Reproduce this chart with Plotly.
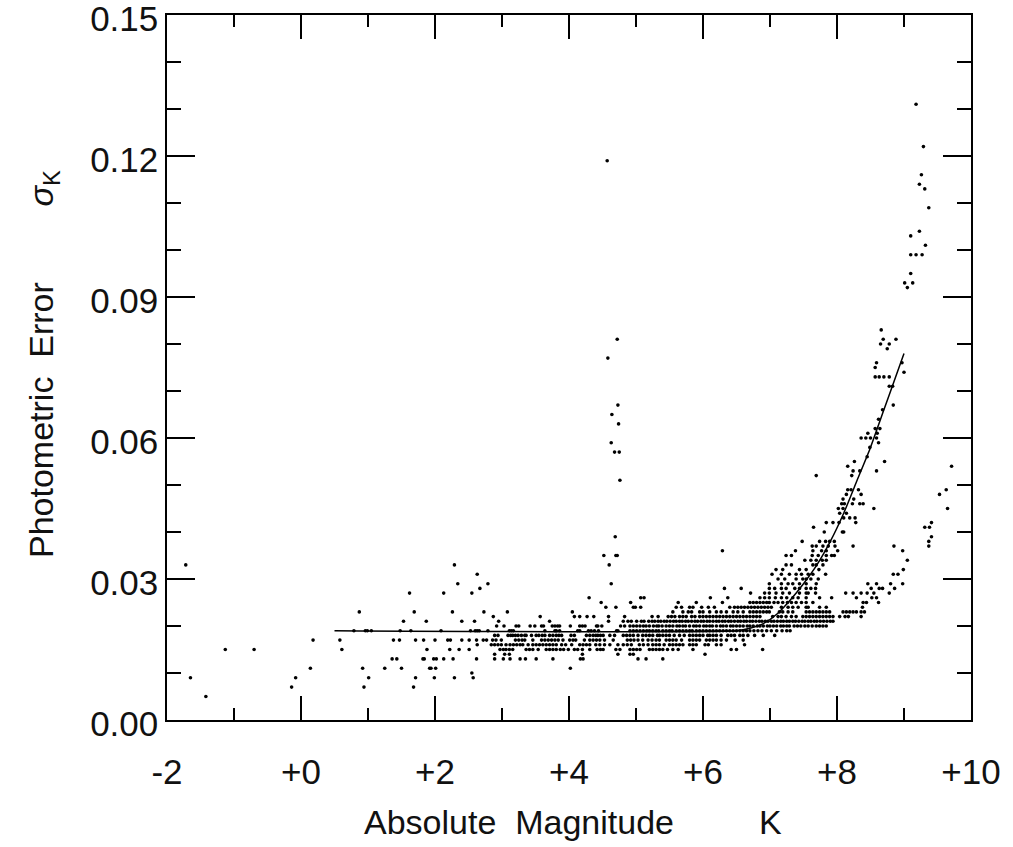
import plotly.graph_objects as go

# ---------------- data ----------------
# absolute magnitudes K of stars, grouped by their (quantised) photometric error sigma_K
sig_013 = [1.36, 1.43, 1.82, 1.84, 1.98, 2.02, 2.13, 2.27, 2.62, 2.89, 3.02, 3.12, 3.27, 3.35,
           3.51, 3.76, 4.17, 4.21, 5.03, 5.15, 5.40]
sig_014 = [2.89, 3.04, 3.11, 4.20, 4.73, 4.91, 4.96, 6.03]
sig_015 = [-1.13, -0.70, 0.61, 1.88, 2.22, 2.36, 2.51, 2.97, 3.02, 3.06, 3.11, 3.16, 3.36, 3.41,
           3.46, 3.54, 3.66, 3.71, 3.76, 3.81, 3.87, 3.92, 3.99, 4.08, 4.13, 4.20, 4.31, 4.42,
           4.47, 4.51, 4.70, 4.76, 4.91, 4.96, 5.01, 5.06, 5.20, 5.25, 5.30, 5.35, 5.40, 5.47,
           5.55, 5.63, 5.85, 6.42, 6.50, 6.89]
sig_016 = [2.63, 2.84, 2.89, 2.94, 2.99, 3.06, 3.12, 3.17, 3.22, 3.27, 3.31, 3.39, 3.46, 3.51,
           3.56, 3.61, 3.66, 3.71, 3.76, 3.81, 3.89, 3.95, 4.04, 4.16, 4.21, 4.26, 4.31, 4.40,
           4.46, 4.53, 4.61, 4.73, 4.81, 4.87, 4.93, 5.05, 5.11, 5.18, 5.25, 5.30, 5.35, 5.42,
           5.50, 5.55, 5.60, 5.65, 5.70, 5.80, 5.85, 5.90, 6.03, 6.08, 6.20, 6.27, 6.62]
sig_017 = [0.18, 0.58, 1.38, 1.47, 1.71, 1.83, 2.00, 2.19, 2.23, 2.40, 2.51, 2.62, 2.72, 2.77,
           2.86, 2.91, 2.99, 3.20, 3.25, 3.30, 3.34, 3.46, 3.59, 3.64, 3.69, 3.74, 3.79, 3.84,
           3.91, 4.01, 4.06, 4.10, 4.23, 4.31, 4.36, 4.41, 4.46, 4.53, 4.66, 4.87, 4.92, 4.97,
           5.03, 5.10, 5.18, 5.24, 5.30, 5.35, 5.45, 5.50, 5.55, 5.60, 5.68, 5.80, 5.85, 5.90,
           5.95, 6.05, 6.10, 6.15, 6.20, 6.27, 6.35, 6.48, 6.60]
sig_018 = [2.89, 2.94, 3.09, 3.13, 3.16, 3.20, 3.24, 3.29, 3.34, 3.36, 3.44, 3.51, 3.55, 3.60,
           3.64, 3.71, 3.76, 3.81, 3.85, 3.89, 4.03, 4.08, 4.26, 4.31, 4.36, 4.40, 4.43, 4.47,
           4.51, 4.61, 4.68, 4.81, 4.86, 4.91, 4.96, 5.03, 5.10, 5.15, 5.20, 5.25, 5.32, 5.35,
           5.40, 5.45, 5.50, 5.57, 5.65, 5.72, 5.80, 5.85, 5.90, 5.95, 6.00, 6.07, 6.10, 6.15,
           6.20, 6.27, 6.37, 6.42, 6.47, 6.55, 6.60, 6.67, 6.77, 6.90, 7.07]
sig_019 = [0.79, 0.96, 0.99, 1.05, 1.48, 1.64, 2.09, 2.53, 2.60, 2.63, 2.66, 2.79, 3.11, 3.14,
           3.17, 3.64, 3.79, 3.81, 3.86, 4.13, 4.16, 4.29, 4.33, 4.38, 4.44, 4.71, 4.73, 4.91,
           4.96, 5.01, 5.06, 5.11, 5.16, 5.20, 5.25, 5.30, 5.34, 5.40, 5.45, 5.50, 5.54, 5.60,
           5.65, 5.70, 5.75, 5.80, 5.84, 5.90, 5.95, 6.00, 6.05, 6.10, 6.15, 6.20, 6.25, 6.30,
           6.35, 6.40, 6.45, 6.50, 6.55, 6.60, 6.65, 6.70, 6.76, 6.82, 6.88, 6.95, 7.02, 7.10,
           7.18, 7.25, 7.30]
sig_020 = [2.92, 3.03, 3.21, 3.25, 3.42, 3.49, 3.59, 3.62, 3.75, 3.79, 3.83, 3.86, 4.02, 4.16,
           4.20, 4.24, 4.41, 4.43, 4.49, 4.77, 4.83, 4.91, 4.96, 5.01, 5.06, 5.11, 5.15, 5.20,
           5.26, 5.31, 5.34, 5.39, 5.45, 5.50, 5.55, 5.61, 5.65, 5.70, 5.74, 5.80, 5.86, 5.90,
           5.95, 6.01, 6.05, 6.10, 6.14, 6.20, 6.26, 6.30, 6.35, 6.41, 6.45, 6.50, 6.55, 6.60,
           6.66, 6.70, 6.75, 6.81, 6.85, 6.90, 6.96, 7.00, 7.05, 7.10, 7.16, 7.20, 7.25, 7.29,
           7.36, 7.41, 7.46, 7.52, 7.57, 7.63, 7.69, 7.74, 7.79, 7.84]
sig_021 = [1.53, 1.87, 2.40, 2.59, 2.95, 3.71, 4.59, 4.81, 4.88, 4.93, 5.01, 5.08, 5.12, 5.19,
           5.24, 5.28, 5.33, 5.37, 5.42, 5.46, 5.51, 5.56, 5.60, 5.65, 5.69, 5.74, 5.78, 5.83,
           5.88, 5.92, 5.97, 6.01, 6.06, 6.10, 6.15, 6.20, 6.24, 6.29, 6.33, 6.38, 6.42, 6.47,
           6.52, 6.56, 6.61, 6.65, 6.70, 6.74, 6.79, 6.84, 6.88, 6.93, 6.97, 7.02, 7.06, 7.11,
           7.16, 7.20, 7.25, 7.29, 7.34, 7.38, 7.43, 7.48, 7.52, 7.57, 7.61, 7.66, 7.70, 7.75,
           7.80, 7.85, 7.90, 7.94]
sig_022 = [2.87, 3.57, 4.08, 4.16, 4.27, 4.37, 4.59, 4.83, 5.24, 5.33, 5.48, 5.53, 5.58, 5.65,
           5.70, 5.75, 5.83, 5.88, 5.95, 6.00, 6.05, 6.10, 6.15, 6.20, 6.25, 6.30, 6.35, 6.40,
           6.45, 6.50, 6.55, 6.60, 6.65, 6.70, 6.75, 6.80, 6.85, 7.04, 7.12, 7.17, 7.24, 7.32,
           7.39, 7.49, 7.54, 7.59, 7.64, 7.69, 7.74, 7.79, 7.84, 7.89, 7.94, 8.04, 8.12, 8.17,
           8.36]
sig_023 = [0.87, 1.69, 2.26, 2.73, 3.08, 4.05, 5.55, 5.70, 5.78, 5.83, 5.95, 6.00, 6.10, 6.20,
           6.27, 6.35, 6.45, 6.52, 6.60, 6.70, 6.75, 6.80, 6.85, 6.90, 6.95, 6.99, 7.14, 7.19,
           7.27, 7.34, 7.54, 7.59, 7.64, 7.69, 7.74, 7.79, 7.84, 7.89, 8.09, 8.14, 8.19, 8.24,
           8.29, 8.36, 8.41]
sig_024 = [4.55, 4.70, 4.96, 4.99, 5.07, 5.60, 5.68, 5.80, 5.85, 5.98, 6.08, 6.17, 6.40, 6.47,
           6.52, 6.57, 6.62, 6.67, 6.72, 6.77, 6.82, 6.87, 6.92, 6.97, 7.02, 7.17, 7.27, 7.34,
           7.42, 7.54, 7.57, 7.74, 7.84, 8.38]

# remaining (sparser) stars as explicit magnitude / error pairs
sparse_mag = [-1.42,
              -0.14, 0.94, 1.68,
              -1.65, -0.08, 1.01, 1.71, 1.99, 2.29, 2.57,
              2.55,
              0.14, 0.92, 1.25, 1.50, 1.92, 1.94, 2.01, 4.02,
              4.48, 4.92, 5.63, 5.90, 6.29, 6.70, 6.75, 6.80, 6.85, 6.90, 6.95, 6.99, 7.06, 7.12,
              7.19, 7.26, 7.32, 7.39, 7.47, 7.54, 7.64, 8.39, 8.44, 8.62,
              4.30, 5.07, 5.12, 6.11, 6.37, 6.85, 6.92, 6.99, 7.08, 7.17, 7.25, 7.34, 7.42, 7.54,
              7.74, 7.92, 8.29, 8.52, 8.59,
              1.62, 2.13, 2.55, 6.71, 6.92, 6.99, 7.09, 7.19, 7.29, 7.44, 7.54, 7.57, 7.68, 8.13,
              8.24, 8.36, 8.45, 8.55, 8.78,
              2.67, 6.32, 6.57, 6.99, 7.07, 7.17, 7.24, 7.37, 7.44, 7.54, 7.61, 7.68, 8.51, 8.63,
              8.68, 8.86,
              2.34, 2.79, 4.63, 6.99, 7.17, 7.27, 7.34, 7.44, 7.54, 7.69, 8.46, 8.59, 8.80, 8.98,
              7.12, 7.22, 7.39, 7.49, 7.54, 7.61, 7.72,
              2.63, 7.03, 7.17, 7.29, 7.39, 7.47, 7.57, 7.64, 7.83, 8.84, 8.91,
              7.09, 7.19, 7.44, 7.54, 7.73, 8.99,
              -1.72, 2.29, 4.60, 7.24, 7.32, 7.64, 7.69, 7.79,
              7.52, 7.61, 7.69, 7.78, 7.84, 9.05,
              4.52, 4.70, 4.72, 7.24, 7.32, 7.63, 7.72, 7.84, 7.92, 7.96,
              6.29, 7.38, 7.64, 7.77, 7.84, 8.01, 8.98,
              7.63, 7.69, 7.79, 7.87, 7.97, 8.24, 8.85, 9.37,
              7.48, 7.74, 7.83, 7.89, 7.96, 9.37,
              4.69, 9.41,
              7.81, 8.08, 8.10,
              7.65, 9.31, 9.38,
              7.84, 7.94, 8.03, 8.28, 9.41,
              8.10, 8.19, 8.27,
              8.04, 8.14,
              8.02, 8.09, 8.55, 9.65,
              8.07, 8.11, 8.23, 8.34, 8.39,
              8.09, 8.25,
              8.14, 8.36, 9.53,
              8.16, 8.21, 8.32, 9.63,
              4.76,
              7.69, 8.22,
              8.24, 8.34, 8.59,
              8.16, 9.71,
              8.26, 8.71,
              8.45,
              4.68, 4.75,
              8.49,
              4.63, 8.62,
              8.36, 8.43, 8.50, 8.59,
              8.46, 8.60,
              8.57, 8.64,
              4.74,
              8.62,
              4.64,
              8.68,
              4.73, 8.84,
              8.78, 8.83,
              8.57, 8.63, 8.70, 8.78,
              9.00,
              8.57,
              8.59, 8.97,
              4.58,
              8.75,
              8.65, 8.78,
              4.72, 8.69, 8.88,
              8.66,
              9.05,
              9.01, 9.13,
              9.10,
              9.10, 9.18, 9.27,
              9.32,
              9.10,
              9.23,
              9.37,
              9.31,
              9.23,
              9.26,
              4.57,
              9.29,
              9.18]
sparse_err = [0.005,
              0.007, 0.007, 0.007,
              0.009, 0.009, 0.009, 0.009, 0.009, 0.009, 0.009,
              0.010,
              0.011, 0.011, 0.011, 0.011, 0.011, 0.011, 0.011, 0.011,
              0.025, 0.025, 0.025, 0.025, 0.025, 0.025, 0.025, 0.025, 0.025, 0.025, 0.025, 0.025,
              0.025, 0.025, 0.025, 0.025, 0.025, 0.025, 0.025, 0.025, 0.025, 0.025, 0.025, 0.025,
              0.026, 0.026, 0.026, 0.026, 0.026, 0.026, 0.026, 0.026, 0.026, 0.026, 0.026, 0.026,
              0.026, 0.026, 0.026, 0.026, 0.026, 0.026, 0.026,
              0.027, 0.027, 0.027, 0.027, 0.027, 0.027, 0.027, 0.027, 0.027, 0.027, 0.027, 0.027,
              0.027, 0.027, 0.027, 0.027, 0.027, 0.027, 0.027,
              0.028, 0.028, 0.028, 0.028, 0.028, 0.028, 0.028, 0.028, 0.028, 0.028, 0.028, 0.028,
              0.028, 0.028, 0.028, 0.028,
              0.029, 0.029, 0.029, 0.029, 0.029, 0.029, 0.029, 0.029, 0.029, 0.029, 0.029, 0.029,
              0.029, 0.029,
              0.030, 0.030, 0.030, 0.030, 0.030, 0.030, 0.030,
              0.031, 0.031, 0.031, 0.031, 0.031, 0.031, 0.031, 0.031, 0.031, 0.031, 0.031,
              0.032, 0.032, 0.032, 0.032, 0.032, 0.032,
              0.033, 0.033, 0.033, 0.033, 0.033, 0.033, 0.033, 0.033,
              0.034, 0.034, 0.034, 0.034, 0.034, 0.034,
              0.035, 0.035, 0.035, 0.035, 0.035, 0.035, 0.035, 0.035, 0.035, 0.035,
              0.036, 0.036, 0.036, 0.036, 0.036, 0.036, 0.036,
              0.037, 0.037, 0.037, 0.037, 0.037, 0.037, 0.037, 0.037,
              0.038, 0.038, 0.038, 0.038, 0.038, 0.038,
              0.039, 0.039,
              0.040, 0.040, 0.040,
              0.041, 0.041, 0.041,
              0.042, 0.042, 0.042, 0.042, 0.042,
              0.043, 0.043, 0.043,
              0.044, 0.044,
              0.045, 0.045, 0.045, 0.045,
              0.046, 0.046, 0.046, 0.046, 0.046,
              0.047, 0.047,
              0.048, 0.048, 0.048,
              0.049, 0.049, 0.049, 0.049,
              0.051,
              0.052, 0.052,
              0.053, 0.053, 0.053,
              0.054, 0.054,
              0.055, 0.055,
              0.056,
              0.057, 0.057,
              0.058,
              0.059, 0.059,
              0.060, 0.060, 0.060, 0.060,
              0.061, 0.061,
              0.062, 0.062,
              0.063,
              0.064,
              0.065,
              0.066,
              0.067, 0.067,
              0.071, 0.071,
              0.073, 0.073, 0.073, 0.073,
              0.074,
              0.075,
              0.076, 0.076,
              0.077,
              0.079,
              0.080, 0.080,
              0.081, 0.081, 0.081,
              0.083,
              0.092,
              0.093, 0.093,
              0.095,
              0.099, 0.099, 0.099,
              0.101,
              0.103,
              0.104,
              0.109,
              0.113,
              0.114,
              0.116,
              0.119,
              0.122,
              0.131]

# fitted relation drawn over the data
fit_mag = [0.5, 6.5, 6.7, 6.9, 7.1, 7.3, 7.5, 7.7, 7.9, 8.1, 8.3, 8.5, 8.7, 8.9, 9.0]
fit_err = [0.019, 0.019, 0.0195, 0.0205, 0.0225, 0.0255, 0.029, 0.033, 0.038, 0.044, 0.051,
           0.058, 0.066, 0.074, 0.078]

# axis ticks
x_tick_vals = [-2, 0, 2, 4, 6, 8, 10]
x_tick_text = ["-2", "+0", "+2", "+4", "+6", "+8", "+10"]
y_tick_vals = [0.0, 0.03, 0.06, 0.09, 0.12, 0.15]
y_tick_text = ["0.00", "0.03", "0.06", "0.09", "0.12", "0.15"]

# ---------------- assemble ----------------
level_groups = [(0.013, sig_013), (0.014, sig_014), (0.015, sig_015), (0.016, sig_016),
                (0.017, sig_017), (0.018, sig_018), (0.019, sig_019), (0.020, sig_020),
                (0.021, sig_021), (0.022, sig_022), (0.023, sig_023), (0.024, sig_024)]
star_mag, star_err = [], []
for err, mags in level_groups:
    star_mag.extend(mags)
    star_err.extend([err] * len(mags))
star_mag.extend(sparse_mag)
star_err.extend(sparse_err)

FONT = "Liberation Sans, Arial, Helvetica, sans-serif"
W, H = 1013, 847
L, R, T, B = 167, 42, 15, 127
PW, PH = W - L - R, H - T - B

fig = go.Figure()
fig.add_trace(go.Scatter(x=star_mag, y=star_err, mode="markers",
                         marker=dict(size=3.6, color="black", line=dict(width=0)),
                         hoverinfo="skip"))
fig.add_trace(go.Scatter(x=fit_mag, y=fit_err, mode="lines",
                         line=dict(color="black", width=1.5, shape="spline", smoothing=0.6),
                         hoverinfo="skip"))

axis_common = dict(showline=True, linecolor="black", linewidth=1.5, mirror="ticks",
                   ticks="inside", tickcolor="black", tickwidth=1.5, automargin=False,
                   showgrid=False, zeroline=False, ticklabeloverflow="allow",
                   tickfont=dict(family=FONT, size=35, color="#111111"))

fig.update_xaxes(range=[-2.0000001, 10.0000001], tickmode="array", tickvals=x_tick_vals,
                 ticktext=x_tick_text, ticklen=24, ticklabelstandoff=20,
                 minor=dict(dtick=1, tick0=0, ticks="inside", ticklen=12, tickwidth=1.5,
                            tickcolor="black", showgrid=False),
                 **axis_common)
fig.update_yaxes(range=[-0.0000001, 0.1500001], tickmode="array", tickvals=y_tick_vals,
                 ticktext=y_tick_text, ticklen=28, ticklabelstandoff=0, ticklabelshift=4,
                 minor=dict(dtick=0.01, tick0=0, ticks="inside", ticklen=14, tickwidth=1.5,
                            tickcolor="black", showgrid=False),
                 **axis_common)

nb = "\u00a0"
fig.add_annotation(text="Absolute" + nb * 2 + "Magnitude" + nb * 9 + "K",
                   xref="paper", yref="paper", x=(362 - L) / PW, y=(720 - 822) / PH,
                   xanchor="left", yanchor="middle", showarrow=False,
                   font=dict(family=FONT, size=34, color="#111111"))
fig.add_annotation(text="Photometric" + nb * 2 + "Error" + nb * 8 + "<i>σ</i><sub>K</sub>",
                   xref="paper", yref="paper", x=(43 - L) / PW, y=(720 - 560) / PH,
                   xanchor="center", yanchor="bottom", textangle=-90, showarrow=False,
                   font=dict(family=FONT, size=34, color="#111111"))

fig.update_layout(width=W, height=H, margin=dict(l=L, r=R, t=T, b=B, pad=0, autoexpand=False),
                  plot_bgcolor="white", paper_bgcolor="white", showlegend=False,
                  font=dict(family=FONT, size=34, color="#111111"))

fig.write_html("out.html")
